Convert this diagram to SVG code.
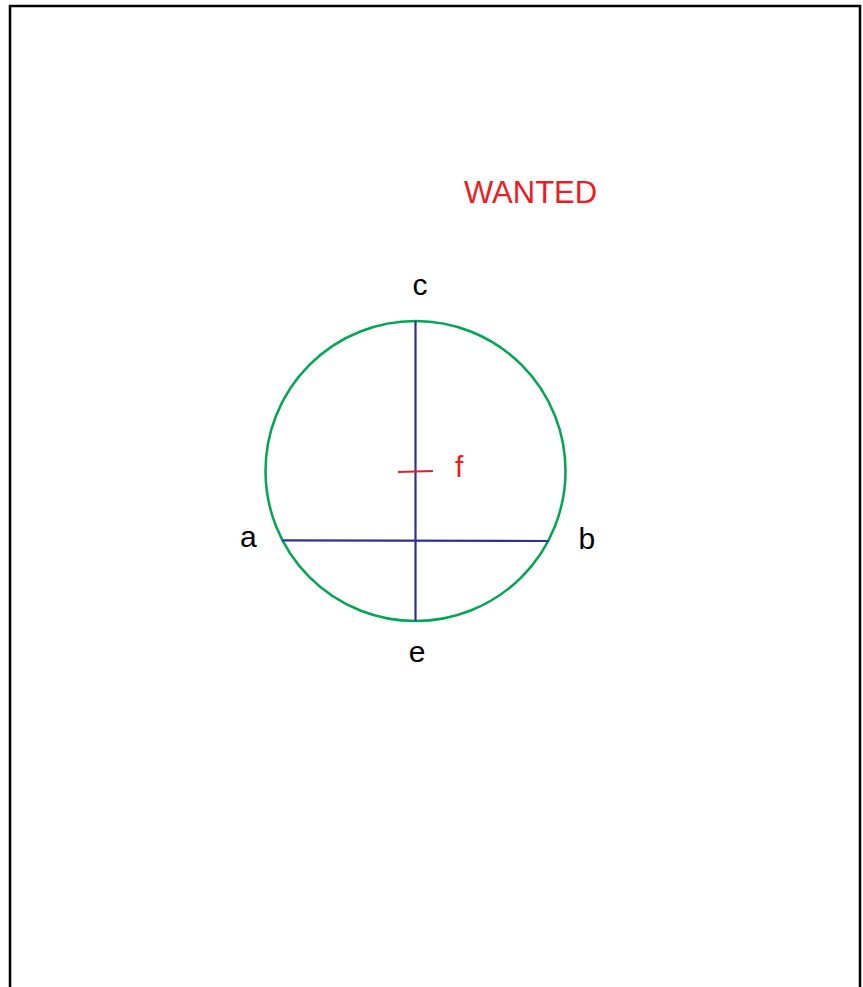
<svg xmlns="http://www.w3.org/2000/svg" width="863" height="987" viewBox="0 0 863 987">
<style>
.lbl{font-family:"Liberation Sans",Arial,sans-serif;font-size:30px;fill:#000}
.red{fill:#ed1c24}
.ln{stroke:#2e3192;stroke-width:2.2;fill:none}
</style>
<rect x="0" y="0" width="863" height="987" fill="#fff"/>
<rect x="10" y="6" width="850" height="1000" fill="none" stroke="#000" stroke-width="2.5"/>
<g id="circle">
<circle cx="415.5" cy="471" r="150" fill="none" stroke="#00a650" stroke-width="2.5"/>
</g>
<g id="connectors">
<line class="ln" x1="415.5" y1="321" x2="415.5" y2="621"/>
<line class="ln" x1="282.5" y1="540.3" x2="548.5" y2="541"/>
<line x1="398" y1="472" x2="433" y2="471" stroke="#ed1c24" stroke-width="2.2"/>
</g>
<g id="title"><text class="lbl red" x="464" y="203" style="font-size:31px">WANTED</text></g>
<g id="node-c"><text class="lbl" x="420" y="295" text-anchor="middle">c</text></g>
<g id="node-a"><text class="lbl" x="240" y="547">a</text></g>
<g id="node-b"><text class="lbl" x="578.5" y="549">b</text></g>
<g id="node-e"><text class="lbl" x="417" y="662" text-anchor="middle">e</text></g>
<g id="node-f"><text class="lbl red" x="455" y="477">f</text></g>
</svg>
